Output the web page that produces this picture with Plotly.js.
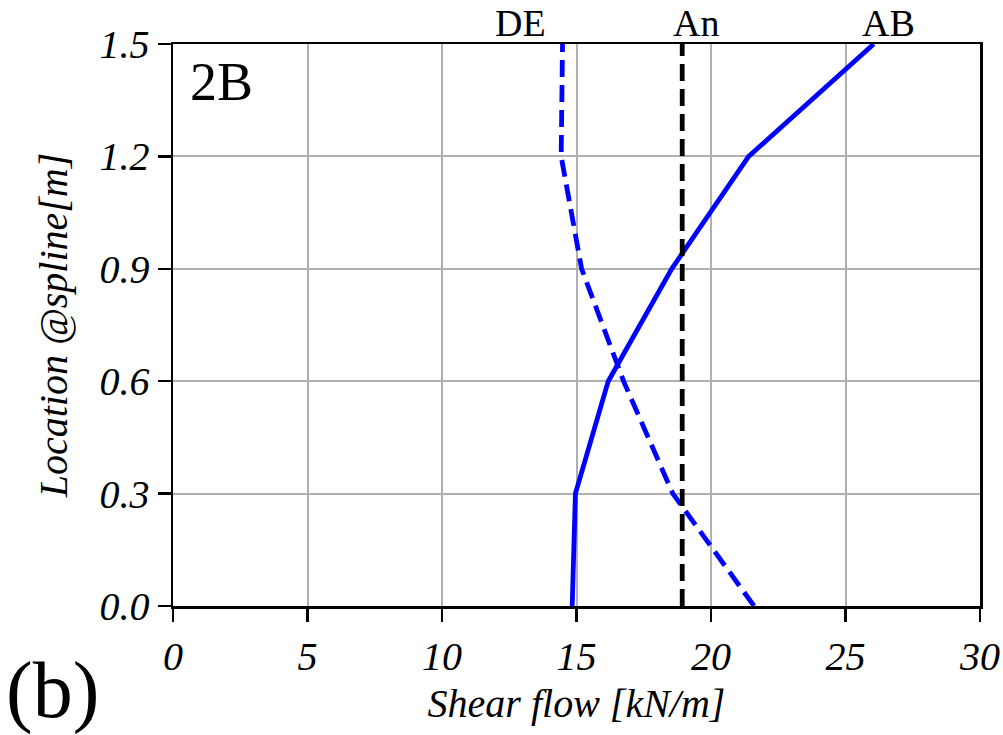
<!DOCTYPE html>
<html>
<head>
<meta charset="utf-8">
<script src="https://cdn.plot.ly/plotly-3.0.1.min.js"></script>
<style>html,body{margin:0;padding:0;background:#fff;}#chart{width:1003px;height:735px;}</style>
</head>
<body>
<div id="chart"></div>
<script>
// Data
var location_m = [0.0, 0.3, 0.6, 0.9, 1.2, 1.5];
var shearAB = [14.84, 14.96, 16.18, 18.54, 21.40, 26.05];
var shearDE = [21.60, 18.58, 16.75, 15.19, 14.43, 14.48];
var shearAn = 18.93;
var anLoc = [0.0, 1.5];
var xTicks = [0, 5, 10, 15, 20, 25, 30];
var yTicks = [0.0, 0.3, 0.6, 0.9, 1.2, 1.5];
var yTickText = ['0.0', '0.3', '0.6', '0.9', '1.2', '1.5'];
var curveLabels = ['DE', 'An', 'AB'];
var curveLabelX = [12.9, 19.45, 26.6];

var serif = 'Liberation Serif, Times New Roman, serif';

var traces = [
  {x: shearAB, y: location_m, mode: 'lines', name: 'AB',
   line: {color: '#0000ff', width: 4.8}},
  {x: shearDE, y: location_m, mode: 'lines', name: 'DE',
   line: {color: '#0000ff', width: 4.8, dash: '17px,8px'}},
  {x: [shearAn, shearAn], y: anLoc, mode: 'lines', name: 'An',
   line: {color: '#000000', width: 4.8, dash: '17px,8px'}}
];

var annotations = [];
for (var i = 0; i < curveLabels.length; i++) {
  annotations.push({x: curveLabelX[i], y: 1.5, xref: 'x', yref: 'y',
    text: curveLabels[i], showarrow: false, yanchor: 'bottom', yshift: -2,
    font: {family: serif, size: 38, color: '#000'}});
}
annotations.push({x: 0.018, y: 1.485, xref: 'paper', yref: 'y', text: '2B',
  showarrow: false, xanchor: 'left', yanchor: 'top',
  font: {family: serif, size: 54, color: '#000'}});
annotations.push({x: -0.21, y: -0.15, xref: 'paper', yref: 'paper', text: '(b)',
  showarrow: false, xanchor: 'left', yanchor: 'middle',
  font: {family: serif, size: 80, color: '#000'}});

var layout = {
  width: 1003, height: 735,
  margin: {l: 173, r: 23, t: 44, b: 129},
  paper_bgcolor: '#fff', plot_bgcolor: '#fff',
  showlegend: false,
  font: {family: serif, color: '#000'},
  xaxis: {
    range: [0, 30], tickvals: xTicks, ticktext: xTicks.map(function(v){return '<i>' + v + '</i>';}),
    showgrid: true, gridcolor: '#b0b0b0', gridwidth: 2,
    showline: true, linecolor: '#000', linewidth: 2.5, mirror: true,
    ticks: 'outside', ticklen: 13, tickwidth: 2.5, tickcolor: '#000',
    zeroline: false,
    tickfont: {family: serif, size: 40, color: '#000'},
    title: {text: '<i>Shear flow [kN/m]</i>', font: {family: serif, size: 40, color: '#000'}, standoff: 12}
  },
  yaxis: {
    range: [0, 1.5], tickvals: yTicks, ticktext: yTickText.map(function(v){return '<i>' + v + '</i>';}),
    showgrid: true, gridcolor: '#b0b0b0', gridwidth: 2,
    showline: true, linecolor: '#000', linewidth: 2.5, mirror: true,
    ticks: 'outside', ticklen: 13, tickwidth: 2.5, tickcolor: '#000',
    zeroline: false,
    tickfont: {family: serif, size: 40, color: '#000'},
    title: {text: '<i>Location @spline[m]</i>', font: {family: serif, size: 40, color: '#000'}, standoff: 20}
  },
  annotations: annotations
};

Plotly.newPlot('chart', traces, layout, {staticPlot: true, displayModeBar: false});
</script>
</body>
</html>
